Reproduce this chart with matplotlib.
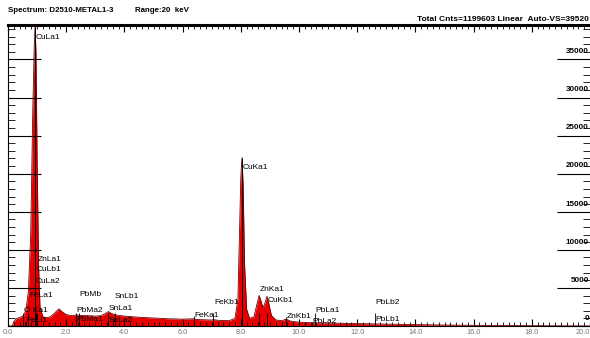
import matplotlib
matplotlib.use("Agg")
import matplotlib.pyplot as plt
from matplotlib.ticker import MultipleLocator

plt.rcParams['font.family'] = ['Liberation Sans', 'DejaVu Sans']

# spectrum (keV, counts)
energy = [0.0, 0.15, 0.2, 0.3, 0.4, 0.5, 0.55, 0.62, 0.7, 0.78, 0.85, 0.9,
          0.93, 0.96, 1.0, 1.05, 1.1, 1.2, 1.3, 1.45, 1.6, 1.75, 1.85, 2.0,
          2.2, 2.35, 2.5, 2.8, 3.0, 3.2, 3.35, 3.45, 3.55, 3.7, 4.0, 4.5,
          5.0, 5.5, 6.0, 6.4, 6.5, 7.0, 7.06, 7.2, 7.6, 7.8, 7.9, 7.96, 8.0,
          8.04, 8.08, 8.13, 8.2, 8.3, 8.45, 8.55, 8.63, 8.7, 8.76, 8.82, 8.9,
          8.97, 9.05, 9.2, 9.4, 9.57, 9.7, 10.0, 10.5, 11.0, 12.0, 13.0,
          14.0, 15.0, 16.0, 17.0, 18.0, 19.0, 20.0]
counts = [0, 0, 600, 1000, 1100, 1300, 1400, 2200, 4500, 12000, 28000, 36500,
          39400, 36000, 22000, 8000, 2500, 1200, 1100, 1200, 1700, 2250, 1900, 1500,
          1350, 1450, 1400, 1350, 1300, 1350, 1650, 1900, 1650, 1450, 1300, 1150,
          1050, 950, 900, 950, 850, 780, 850, 750, 700, 1000, 3500, 13000, 19500,
          22100, 18500, 8000, 2200, 1000, 1200, 2800, 4000, 3200, 2400, 2900, 3900,
          2800, 1400, 800, 700, 900, 650, 500, 420, 380, 320, 250,
          180, 130, 90, 60, 40, 20, 0]

# peak markers: name, energy, label height (counts)
line_names = ['CuLa1', 'ZnLa1', 'CuLb1', 'CuLa2', 'FeLa1', 'O Ka1', 'FeLl1',
              'PbMb', 'PbMa2', 'PbMa1', 'SnLb1', 'SnLa1', 'SnLa2', 'FeKa1',
              'FeKb1', 'CuKa1', 'ZnKa1', 'CuKb1', 'ZnKb1', 'PbLa1', 'PbLa2',
              'PbLb2', 'PbLb1']
line_kev = [0.93, 1.01, 0.95, 0.93, 0.70, 0.52, 0.62,
            2.44, 2.34, 2.34, 3.66, 3.44, 3.44, 6.40,
            7.06, 8.04, 8.63, 8.90, 9.57, 10.55, 10.45,
            12.62, 12.61]
label_y = [37900, 8750, 7400, 5800, 4000, 2100, 660,
           4100, 2100, 800, 3850, 2250, 660, 1330,
           3050, 20800, 4800, 3300, 1200, 2100, 530,
           3050, 800]

y_ticks = [0, 5000, 10000, 15000, 20000, 25000, 30000, 35000]
x_labels = [0, 2, 4, 6, 8, 10, 12, 14, 16, 18, 20]

fig = plt.figure(figsize=(5.9, 3.38), dpi=100)
ax = fig.add_axes([8 / 590, 12 / 338, 582 / 590, 301 / 338])

ax.fill_between(energy, counts, color='#e80000', lw=0)
ax.plot(energy, counts, color='#700000', lw=0.6)

for name, e, ly in zip(line_names, line_kev, label_y):
    # short marker at the line energy
    ax.vlines(e, 0, min(ly, 1700), color='black', lw=0.6)
    ax.text(e + 0.02, ly, name, fontsize=6, color='black', va='center', ha='left')
# tall markers along the two main Cu peaks
ax.vlines([0.93, 8.04], 0, [39400, 22100], color='black', lw=0.7)

ax.set_xlim(0, 20)
ax.set_ylim(0, 39520)

ax.xaxis.set_minor_locator(MultipleLocator(0.2))
ax.set_xticks(x_labels)
ax.set_xticklabels(['%.1f' % v for v in x_labels])
ax.get_xticklabels()[-1].set_horizontalalignment('right')
ax.tick_params(axis='x', which='both', top=True, bottom=True, direction='in',
               labelsize=5.3, labelcolor='#777777', pad=2)
ax.tick_params(axis='x', which='major', length=5, width=0.8)
ax.tick_params(axis='x', which='minor', length=3, width=0.6)

ax.set_yticks(y_ticks)
ax.yaxis.set_minor_locator(MultipleLocator(1000))
ax.tick_params(axis='y', which='both', left=True, right=True, direction='in',
               labelleft=False, labelright=False)
ax.tick_params(axis='y', which='major', length=24, width=0.8)
ax.tick_params(axis='y', which='minor', length=5, width=0.6)
for v in y_ticks:
    ax.text(0.998, v + 550, str(v), transform=ax.get_yaxis_transform(),
            ha='right', va='bottom', fontsize=5.8, fontweight='bold')

ax.spines['top'].set_linewidth(2.2)
ax.spines['right'].set_visible(False)
ax.spines['left'].set_linewidth(0.8)
ax.spines['bottom'].set_linewidth(0.8)

fig.text(8 / 590, 1 - 11 / 338, 'Spectrum: D2510-METAL1-3', fontsize=5.7,
         fontweight='bold', va='center')
fig.text(135 / 590, 1 - 11 / 338, 'Range:20  keV', fontsize=5.7,
         fontweight='bold', va='center')
fig.text(589 / 590, 1 - 23 / 338, 'Total Cnts=1199603 Linear  Auto-VS=39520',
         fontsize=6, fontweight='bold', va='bottom', ha='right')

fig.savefig('out.png', dpi=100)
